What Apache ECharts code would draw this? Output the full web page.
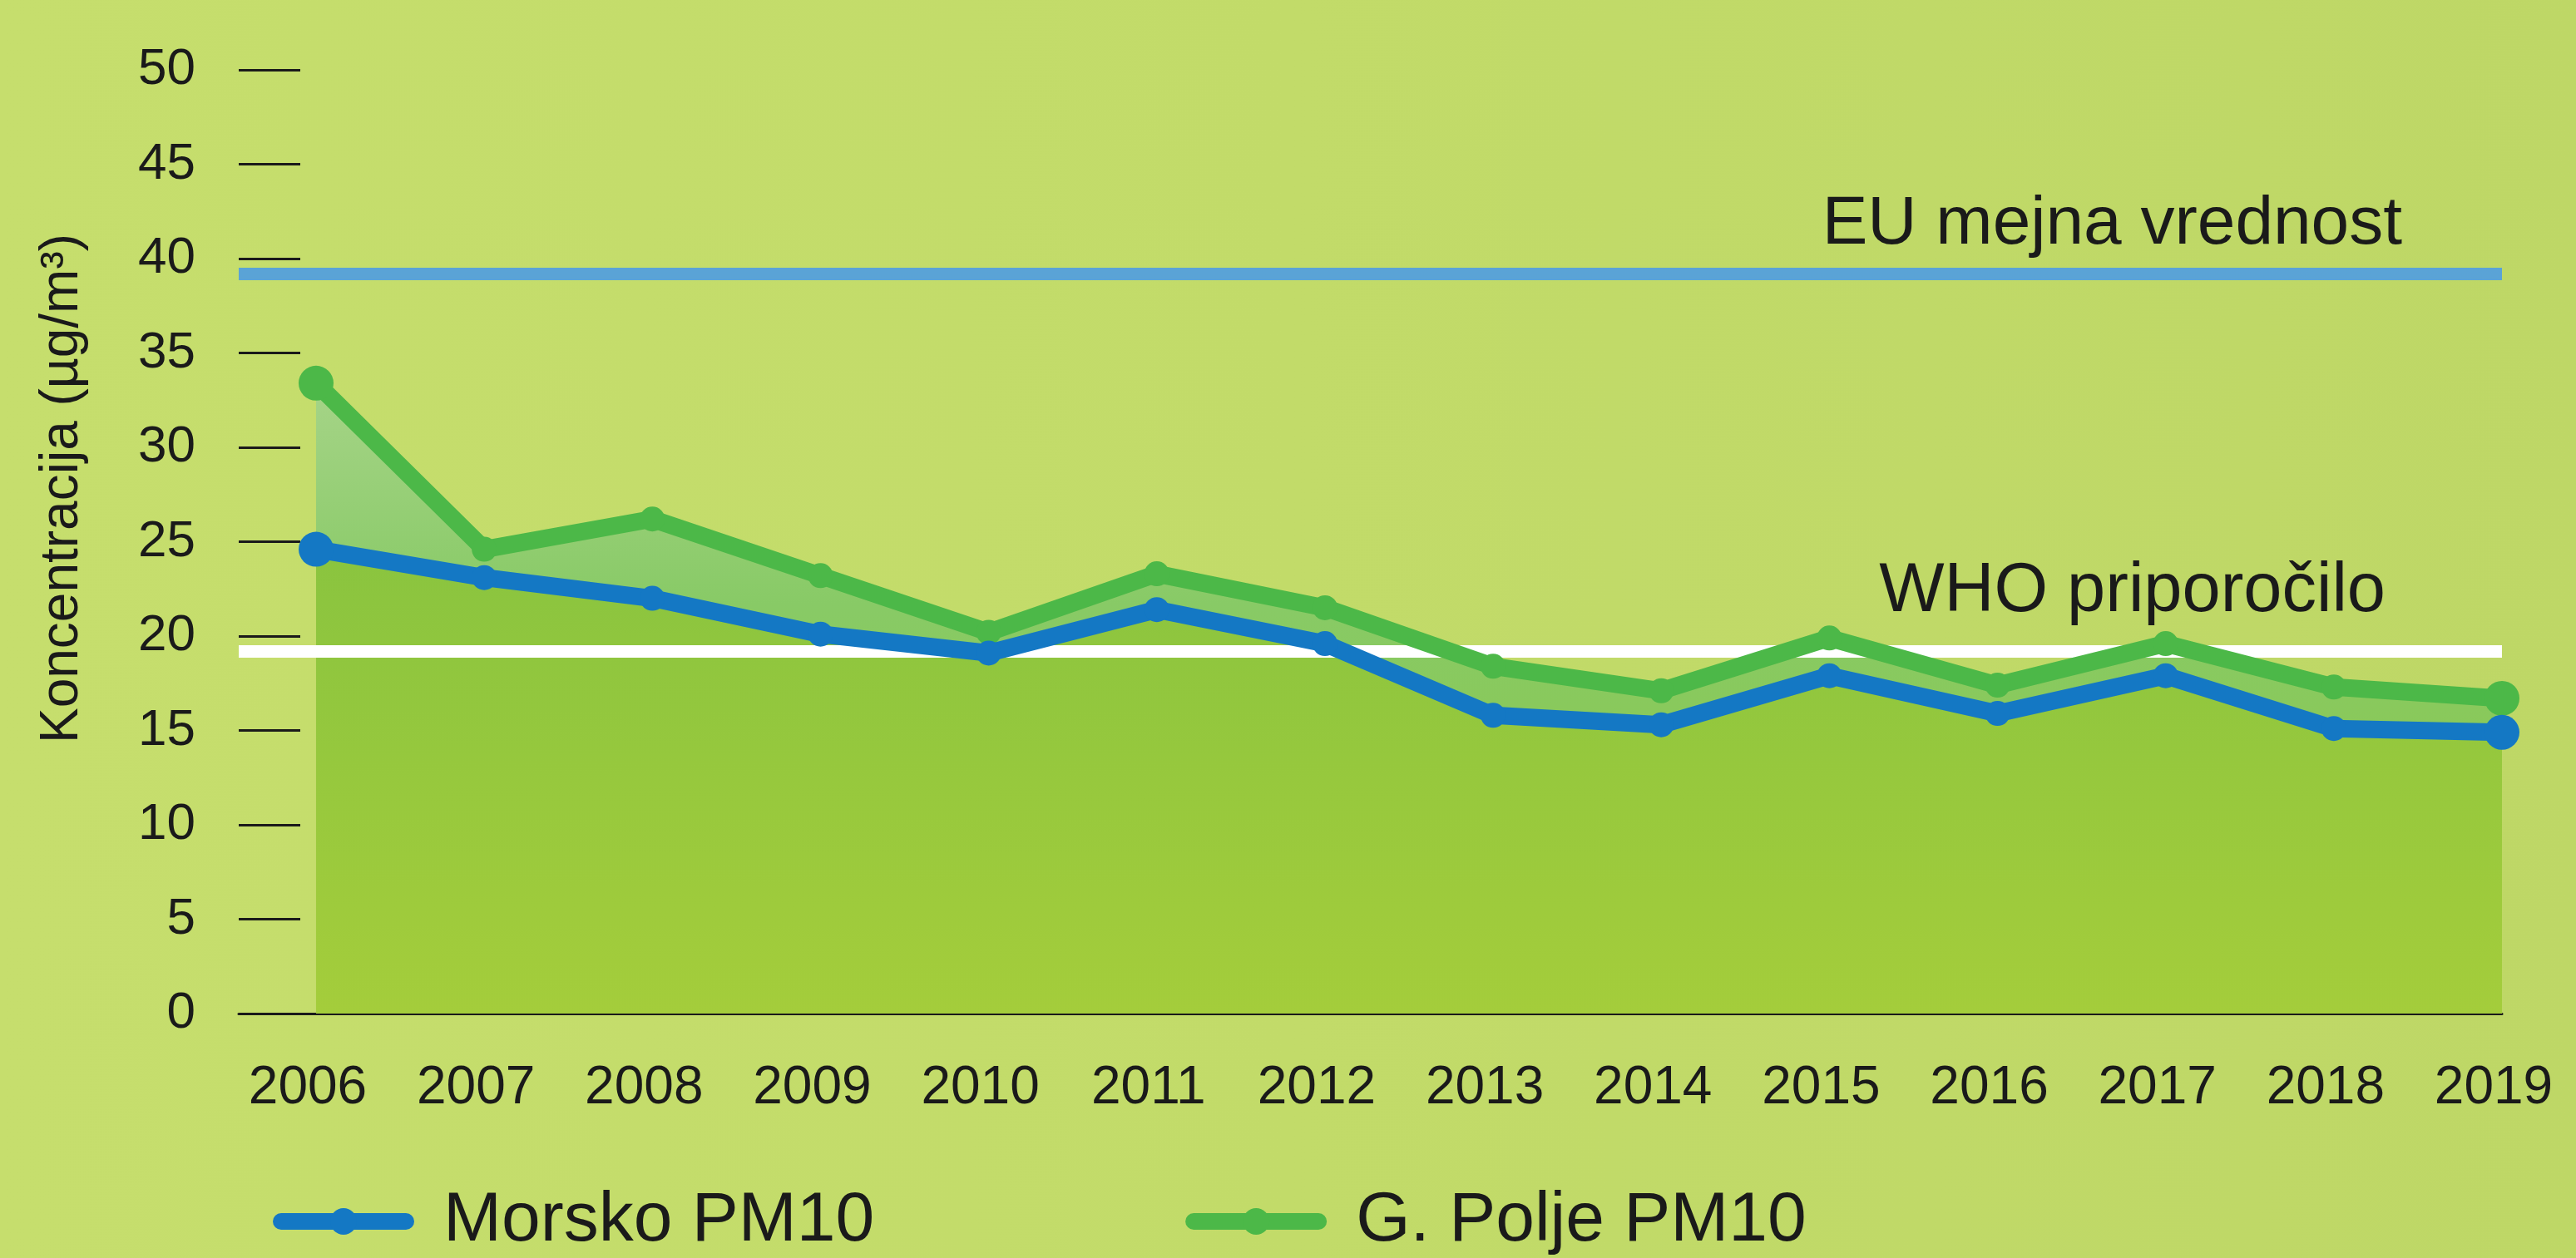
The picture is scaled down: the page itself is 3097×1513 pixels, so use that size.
<!DOCTYPE html>
<html>
<head>
<meta charset="utf-8">
<script src="https://cdn.jsdelivr.net/npm/echarts@6/dist/echarts.min.js"></script>
<style>
  html, body { margin: 0; padding: 0; width: 3097px; height: 1513px; overflow: hidden;
    background: linear-gradient(90deg, #c6de6d 0%, #c2db69 50%, #bed766 100%); }
  #chart { width: 3097px; height: 1513px; }
</style>
</head>
<body>
<div id="chart"></div>
<script>
// ---- data ----
const years = [2006, 2007, 2008, 2009, 2010, 2011, 2012, 2013, 2014, 2015, 2016, 2017, 2018, 2019];
const morskoPM10 = [24.6, 23.1, 22.0, 20.1, 19.1, 21.4, 19.6, 15.8, 15.3, 17.9, 15.9, 17.9, 15.1, 14.9];
const gPoljePM10 = [33.4, 24.6, 26.2, 23.2, 20.2, 23.3, 21.5, 18.4, 17.1, 19.9, 17.4, 19.6, 17.3, 16.7];
const yTickValues = [0, 5, 10, 15, 20, 25, 30, 35, 40, 45, 50];
const euLimit = 39.2;
const whoGuideline = 19.2;
const seriesNames = ['Morsko PM10', 'G. Polje PM10'];
const yAxisTitle = 'Koncentracija (µg/m³)';
const euLabel = 'EU mejna vrednost';
const whoLabel = 'WHO priporočilo';

// ---- build ----
const pairs = arr => years.map((y, i) => [y, arr[i]]);
const FONT = "'Liberation Sans', Arial, Helvetica, sans-serif";
const TXT = '#1a1a1a';
const BLUE = '#1478c4';
const GREEN = '#4cb848';
const lastIdx = years.length - 1;
const symSize = (v, p) => (p.dataIndex === 0 || p.dataIndex === lastIdx) ? 42 : 30;

const chart = echarts.init(document.getElementById('chart'), null, { renderer: 'canvas' });
chart.setOption({
  backgroundColor: 'transparent',
  animation: false,
  grid: { left: 287, right: 89, top: 84, bottom: 294, containLabel: false },
  xAxis: {
    type: 'value',
    min: 2005.54,
    max: 2019,
    splitLine: { show: false },
    axisTick: { show: false },
    axisLine: { show: true, onZero: false, lineStyle: { color: '#1a1a1a', width: 3 } },
    axisLabel: {
      customValues: years,
      formatter: v => String(Math.round(v)),
      fontFamily: FONT, fontSize: 64, color: TXT, margin: 58,
      padding: [0, 20, 0, 0],
      showMinLabel: true, showMaxLabel: true
    }
  },
  yAxis: {
    type: 'value',
    min: 0, max: 50, interval: 5,
    splitLine: { show: false },
    axisLine: { show: false },
    axisTick: { show: true, inside: true, length: 74, lineStyle: { color: '#1a1a1a', width: 3 } },
    axisLabel: {
      customValues: yTickValues,
      fontFamily: FONT, fontSize: 62, color: TXT, margin: 52
    },
    name: yAxisTitle,
    nameLocation: 'middle',
    nameRotate: 90,
    nameGap: 180,
    nameTextStyle: { fontFamily: FONT, fontSize: 64, color: TXT, padding: [0, 0, 0, 128] }
  },
  legend: {
    data: seriesNames,
    left: 328, top: 1427,
    padding: 0,
    itemWidth: 150, itemHeight: 40, itemGap: 374,
    lineStyle: { width: 20, cap: 'round' },
    textStyle: { fontFamily: FONT, fontSize: 84, color: TXT, padding: [0, 0, 0, 40] }
  },
  series: [
    {
      name: 'G. Polje area',
      type: 'line',
      data: pairs(gPoljePM10),
      showSymbol: false, symbol: 'none',
      lineStyle: { width: 0 },
      areaStyle: {
        opacity: 1,
        color: { type: 'linear', x: 0, y: 0, x2: 0, y2: 1,
          colorStops: [{ offset: 0, color: '#a6d488' }, { offset: 0.35, color: '#88ca66' }, { offset: 1, color: '#8cc63f' }] }
      },
      z: 1, silent: true
    },
    {
      name: 'Morsko area',
      type: 'line',
      data: pairs(morskoPM10),
      showSymbol: false, symbol: 'none',
      lineStyle: { width: 0 },
      areaStyle: {
        opacity: 1,
        color: { type: 'linear', x: 0, y: 0, x2: 0, y2: 1,
          colorStops: [{ offset: 0, color: '#8ac43f' }, { offset: 1, color: '#a4cd3b' }] }
      },
      z: 2, silent: true,
      markLine: {
        silent: true,
        symbol: 'none',
        z: 3,
        data: [
          { yAxis: euLimit,
            lineStyle: { color: '#5aa3d6', width: 15, type: 'solid' },
            label: { show: true, position: 'insideEndTop', formatter: euLabel, distance: 0,
              fontFamily: FONT, fontSize: 82, color: TXT, padding: [0, 120, 18, 0] } },
          { yAxis: whoGuideline,
            lineStyle: { color: '#ffffff', width: 15, type: 'solid' },
            label: { show: true, position: 'insideEndTop', formatter: whoLabel, distance: 0,
              fontFamily: FONT, fontSize: 83, color: TXT, padding: [0, 140, 30, 0] } }
        ]
      }
    },
    {
      name: seriesNames[1],
      type: 'line',
      data: pairs(gPoljePM10),
      symbol: 'circle',
      symbolSize: symSize,
      itemStyle: { color: GREEN },
      lineStyle: { color: GREEN, width: 21, cap: 'round', join: 'round' },
      z: 10
    },
    {
      name: seriesNames[0],
      type: 'line',
      data: pairs(morskoPM10),
      symbol: 'circle',
      symbolSize: symSize,
      itemStyle: { color: BLUE },
      lineStyle: { color: BLUE, width: 21, cap: 'round', join: 'round' },
      z: 11
    }
  ]
});
</script>
</body>
</html>
